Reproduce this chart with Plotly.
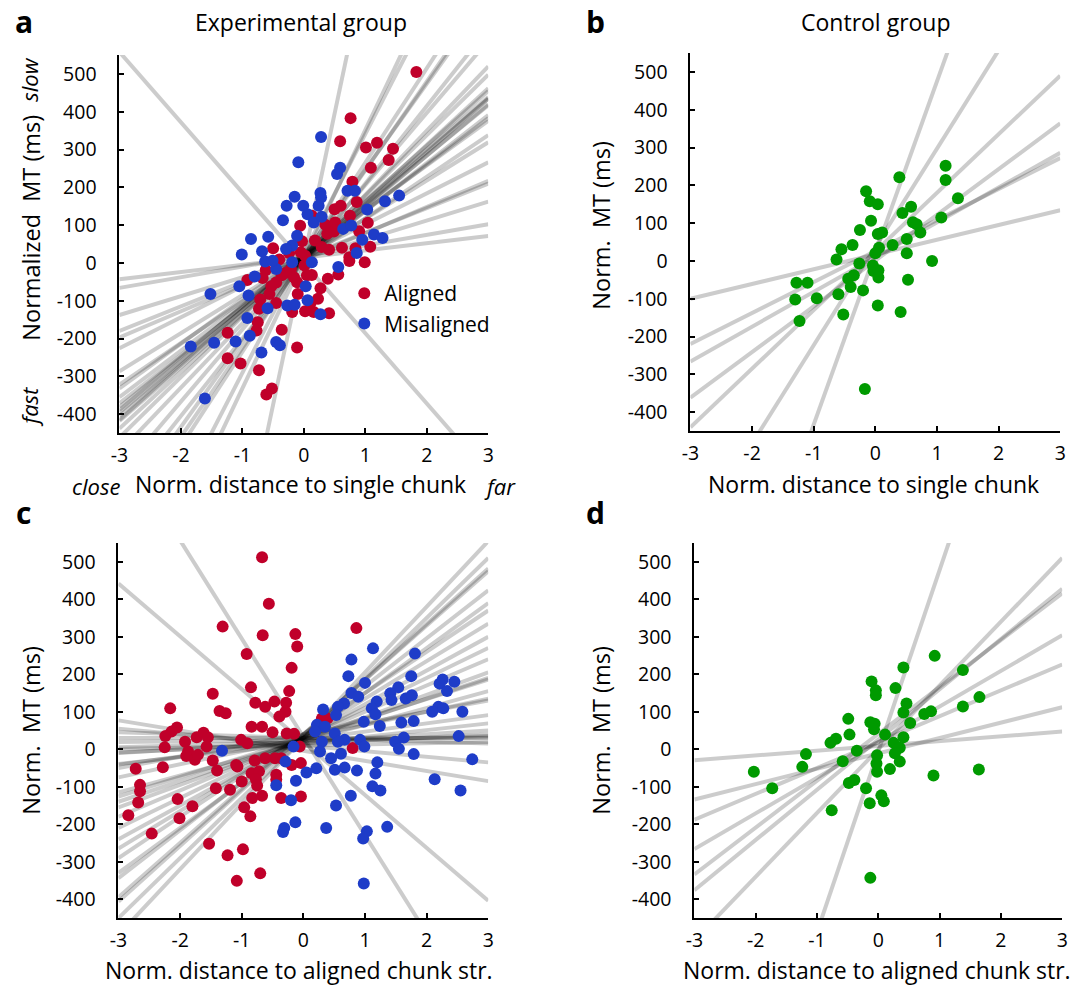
import plotly.graph_objects as go

# ---------------- DATA ----------------
# Panel a: experimental group, distance to single chunk
a_aligned_x = [1.83, 0.76, 0.59, 1.01, 1.19, 1.45, 1.38, 1.09, 0.79, 0.86, 0.75, 1.04, 0.90, 1.08, 0.84, 0.74, 0.74, 0.99,
               0.60, 0.50, 0.35, 0.13, -0.06, 0.38, 0.49, 0.51, 0.18, -0.03, 0.29, 0.41, 0.62, 0.56, 0.39, 0.27, 0.23,
               0.41, 0.16, 0.02, 0.11, 0.13, 0.05, 0.01, 0.02, -0.05, -0.24, -0.40, -0.50, -0.21, -0.29, -0.36, -0.11,
               -0.16, -0.10, -0.19, -0.45, -0.56, -0.62, -0.67, -0.71, -0.73, -0.75, -0.77, -0.36, -0.11, -0.52, -0.61,
               -0.73, -1.03, -1.24, -1.24, -0.92, -0.45, -0.53]
a_aligned_y = [505, 383, 322, 305, 318, 302, 272, 252, 215, 161, 125, 106, 84, 43, 39, 15, 5, 2,
               151, 142, 101, 125, 98, 77, 83, 107, 59, 57, 42, 35, 40, -31, -42, -67, -95,
               -133, -130, -128, -106, -32, -33, -7, 19, 28, 26, 9, 39, -16, -26, -33, -51,
               -38, -82, -130, -106, -82, -19, -40, -97, -121, -157, -179, -177, -224, -332, -348,
               -284, -266, -252, -185, -45, -52, -62]
a_mis_x = [0.28, -0.09, 0.59, 0.54, 0.27, 0.28, -0.15, -0.28, -0.01, -0.34, 0.24, 0.71, 0.83, 1.03, 1.32, 1.55, 1.14,
           1.28, 0.95, 0.86, 0.64, 0.77, 0.06, 0.16, 0.29, -0.11, -0.19, -0.29, -0.58, -0.86, -1.01, -0.68, -0.63,
           -0.45, -0.80, -1.05, -0.90, -1.52, -0.59, -0.92, -0.88, -1.11, -1.46, -1.84, -0.45, -0.39, -0.69, -1.61,
           -0.27, -0.15, 0.06, 0.27, 0.13, 0.03, 0.56, -0.19, -0.51]
a_mis_y = [333, 266, 252, 235, 185, 173, 175, 151, 151, 113, 151, 191, 191, 141, 163, 178, 75,
           66, 61, 26, 90, 99, 129, 107, 122, 72, 46, 37, 69, 63, 22, 31, 4,
           -16, -36, -62, -86, -82, -120, -146, -193, -208, -211, -221, -209, -218, -237, -359,
           -113, -111, -99, -136, 2, -62, -11, 2, 6]
a_line_slope = [-186, 19, 28, 50, 65, 69, 82, 101, 110, 118, 123, 127, 133, 136, 138, 140, 142, 145, 150, 160,
                170, 191, 205, 227, 235, 250, 316, 342, 770]
a_line_icpt = [0, 14, 18, 12, 15, 10, 20, 16, 8, 22, 14, 10, 18, 12, 25, 15, 8, 20, 12, 18,
               10, 15, 5, 20, 10, 15, 25, 10, 10]

# Panel b: control group, distance to single chunk
b_x = [1.14, 1.14, 0.39, 1.34, -0.15, -0.09, 0.04, 0.58, 0.44, 1.07, 0.61, 0.67, -0.07, -0.25, 0.73, 0.04, 0.11,
       0.51, -0.37, -0.55, 0.28, 0.06, 0.00, 0.51, 0.92, -0.63, -0.26, -0.04, -0.03, 0.05, 0.05, -0.35, -0.44,
       -0.40, 0.53, -1.28, -1.10, -1.30, -0.95, -0.60, -0.20, -1.23, -0.52, 0.04, 0.41, -0.17]
b_y = [252, 214, 221, 166, 184, 158, 150, 143, 127, 115, 102, 97, 106, 82, 75, 71, 75,
       58, 42, 31, 42, 35, 20, 20, 0, 4, -7, -12, -27, -25, -44, -38, -47,
       -69, -50, -58, -58, -102, -99, -88, -78, -159, -142, -118, -135, -339]
b_line_slope = [39, 82, 92, 121, 155, 260, 454]
b_line_icpt = [17, 26, 10, 1, 25, 37, 21]

# Panel c: experimental group, distance to aligned chunk structure
c_aligned_x = [-0.67, -0.56, -1.31, -0.66, -0.13, -0.10, -0.92, -0.19, 0.86, -0.85, -0.23, -1.47, -0.78, -0.47,
               -0.62, -0.28, -0.29, -0.39, -1.36, -1.26, -2.16, -0.67, -0.84, -0.50, -0.27, -0.15, 0.30, 0.39,
               -0.06, 0.80, -2.05, -2.14, -2.24, -2.25, -1.92, -1.73, -1.62, -1.55, -1.57, -1.87, -1.90, -1.76,
               -1.71, -1.47, -1.40, -1.09, -1.07, -1.01, -0.91, -0.79, -0.84, -0.72, -0.77, -0.75, -0.62, -0.46,
               -0.36, -0.44, -0.44, -0.19, -0.04, -2.28, -2.72, -2.65, -2.65, -2.68, -2.84, -2.46, -2.04, -1.80,
               -2.01, -1.42, -1.19, -1.00, -0.83, -0.67, -0.96, -0.86, -0.36, -0.04, -1.53, -1.23, -0.98, -1.08,
               -0.70]
c_aligned_y = [512, 388, 327, 304, 307, 274, 254, 217, 323, 165, 155, 148, 124, 127,
               113, 124, 100, 87, 102, 96, 109, 60, 60, 45, 42, 41, 82, 82,
               7, 3, 58, 47, 35, 5, 20, 32, 44, 32, 7, -6, -18, -28,
               -15, -30, -57, -42, -46, 25, 16, -30, -64, -59, -80, -97, -24, -24,
               -24, -68, -81, -42, -37, -48, -52, -95, -112, -142, -176, -225, -133, -152,
               -184, -104, -108, -86, -130, -124, -155, -179, -130, -126, -252, -283, -267, -351,
               -331]
c_mis_x = [1.13, 1.81, 0.78, 0.73, 1.00, 1.75, 2.26, 2.21, 2.45, 2.33, 1.54, 1.41, 1.43, 1.66, 1.76, 0.78, 0.89,
           1.19, 1.11, 1.17, 0.66, 0.56, 0.53, 0.32, 2.19, 2.27, 2.09, 2.58, 0.98, 1.59, 1.79, 1.24, 0.22, 0.35,
           0.19, 0.51, 0.67, 0.56, 0.30, 0.92, 0.99, 1.49, 1.63, 1.55, 1.79, 2.52, 2.74, 2.13, 2.55, 0.27, 0.61,
           0.45, 0.51, 0.67, 0.21, 0.05, 0.87, 1.20, 1.17, 1.12, 1.25, 0.77, 0.53, 0.37, 1.36, 1.03, 0.97, 0.98,
           -0.13, -0.31, -0.33, -0.20, -0.12, -0.44, -0.29, -1.32, -0.16]
c_mis_y = [269, 255, 239, 195, 177, 195, 186, 175, 180, 155, 165, 149, 131, 135, 144, 150, 140,
           127, 109, 93, 122, 113, 91, 106, 113, 109, 100, 100, 73, 71, 75, 62, 65, 60,
           47, 42, 25, 20, 20, 25, 7, 20, 31, 1, -13, 35, -27, -80, -110, -6, -12,
           -24, -55, -49, -51, -62, -57, -35, -65, -99, -110, -124, -150, -210, -207, -219, -238, -358,
           -195, -210, -221, -136, -84, -96, -33, -4, 7]
c_line_slope = [-262, -141, -27, -15, -5, 0, 2, 3, 5, 8, 10, 18, 22, 30, 35, 45, 52, 55, 60, 70,
                80, 90, 100, 110, 120, 128, 145, 148, 160, 175]
c_line_icpt = [33, 19, -4, 10, 30, 30, 25, 10, 20, 15, 20, 15, 25, 40, 30, 20, 30, 25, 25, 30,
               30, 30, 35, 40, 30, 40, 40, 38, 30, 30]

# Panel d: control group, distance to aligned chunk structure
d_x = [0.92, 0.41, 1.38, -0.11, -0.04, -0.04, 0.28, 1.65, 1.38, 0.46, 0.41, 0.75, 0.86, 0.52, -0.49, -0.13, -0.06,
       -0.07, -0.47, 0.11, -0.69, -0.78, 0.41, 0.25, 0.35, -0.35, 0.27, -0.02, -1.18, -0.58, 0.35, -0.03, -0.02,
       0.19, -1.24, -2.03, 1.64, 0.90, -1.73, -0.39, -0.48, -0.20, 0.05, 0.09, -0.14, -0.76, -0.13]
d_y = [249, 218, 211, 181, 157, 144, 163, 139, 114, 122, 98, 94, 101, 70, 81, 72, 68,
       53, 39, 39, 28, 17, 32, 17, 4, -4, -11, -16, -13, -32, -33, -38, -60,
       -53, -47, -60, -54, -70, -104, -82, -90, -104, -123, -139, -144, -163, -343]
d_line_slope = [12.7, 41, 69, 95, 125, 134, 170, 483]
d_line_icpt = [9, -11, 19, 19, 41, 26, 0, -5]

y_ticks = [-400, -300, -200, -100, 0, 100, 200, 300, 400, 500]
y_tick_text = ["-400", "-300", "-200", "-100", "0", "100", "200", "300", "400", "500"]
x_ticks = [-3, -2, -1, 0, 1, 2, 3]
x_tick_text = ["-3", "-2", "-1", "0", "1", "2", "3"]

RED = "#C0002A"
BLUE = "#1E3CC8"
GREEN = "#009A00"
LINE = "rgba(0,0,0,0.2)"
FONT = "Open Sans"

fig = go.Figure()

panels = {
    "a": dict(xa="x", ya="y", xd=[112/1084, 486/1084], yd=[1-433/987, 1-55/987]),
    "b": dict(xa="x2", ya="y2", xd=[691/1084, 1066/1084], yd=[1-431/987, 1-53/987]),
    "c": dict(xa="x3", ya="y3", xd=[111/1084, 486/1084], yd=[1-918/987, 1-543/987]),
    "d": dict(xa="x4", ya="y4", xd=[695/1084, 1068/1084], yd=[1-918/987, 1-543/987]),
}


def add_lines(key, slopes, icpts):
    p = panels[key]
    for s, b in zip(slopes, icpts):
        fig.add_trace(go.Scatter(x=[-3, 3], y=[b - 3 * s, b + 3 * s], mode="lines",
                                 line=dict(color=LINE, width=4), xaxis=p["xa"], yaxis=p["ya"],
                                 showlegend=False, hoverinfo="skip"))


def add_pts(key, xs, ys, color, name=None, legend=False):
    p = panels[key]
    fig.add_trace(go.Scatter(x=xs, y=ys, mode="markers", name=name,
                             marker=dict(color=color, size=12, line=dict(width=0)),
                             xaxis=p["xa"], yaxis=p["ya"], showlegend=legend, cliponaxis=True))


add_lines("a", a_line_slope, a_line_icpt)
add_lines("b", b_line_slope, b_line_icpt)
add_lines("c", c_line_slope, c_line_icpt)
add_lines("d", d_line_slope, d_line_icpt)

add_pts("a", a_aligned_x, a_aligned_y, RED, "Aligned", True)
add_pts("a", a_mis_x, a_mis_y, BLUE, "Misaligned", True)
add_pts("b", b_x, b_y, GREEN)
add_pts("c", c_aligned_x, c_aligned_y, RED)
add_pts("c", c_mis_x, c_mis_y, BLUE)
add_pts("d", d_x, d_y, GREEN)

axis_common = dict(showgrid=False, zeroline=False, showline=True, linecolor="black", linewidth=2,
                   ticks="inside", ticklen=5, tickwidth=1.5, tickcolor="black",
                   tickfont=dict(family=FONT, size=19.5, color="black"))

layout = dict(width=1084, height=987, margin=dict(l=0, r=0, t=0, b=0),
              paper_bgcolor="white", plot_bgcolor="white",
              font=dict(family=FONT, color="black"),
              legend=dict(x=340/1084, y=1-273/987, xanchor="left", yanchor="top",
                          font=dict(family=FONT, size=21, color="black"),
                          bgcolor="rgba(0,0,0,0)", itemwidth=30, tracegroupgap=0))

for i, key in enumerate(["a", "b", "c", "d"]):
    p = panels[key]
    sx = "" if i == 0 else str(i + 1)
    layout["xaxis" + sx] = dict(domain=p["xd"], range=[-3, 3], tickvals=x_ticks, ticktext=x_tick_text,
                                anchor="y" + sx, ticklabelstandoff=4, **axis_common)
    layout["yaxis" + sx] = dict(domain=p["yd"], range=[-450, 550], tickvals=y_ticks, ticktext=y_tick_text,
                                anchor="x" + sx, ticklabelstandoff=17, **axis_common)

fig.update_layout(**layout)

ann = []


def txt(x, y, s, size=20, bold=False, italic=False, angle=0):
    f = dict(family=FONT, size=size, color="black")
    if bold:
        f["weight"] = "bold"
    if italic:
        f["style"] = "italic"
    ann.append(dict(x=x / 1084, y=1 - y / 987, xref="paper", yref="paper", text=s, showarrow=False,
                    font=f, textangle=angle, xanchor="center", yanchor="middle"))


txt(15, 22, "a", 30, bold=True)
txt(595, 22, "b", 30, bold=True)
txt(15, 512, "c", 30, bold=True)
txt(595, 512, "d", 30, bold=True)
txt(296, 22, "Experimental group", 23)
txt(879, 22, "Control group", 23)
txt(22, 228, "Normalized  MT (ms)", 23.5, angle=-90)
txt(600, 225, "Norm.  MT (ms)", 23.5, angle=-90)
txt(22, 730, "Norm.  MT (ms)", 23.5, angle=-90)
txt(600, 730, "Norm.  MT (ms)", 23.5, angle=-90)
txt(20, 80, "slow", 22, italic=True, angle=-90)
txt(20, 407, "fast", 22, italic=True, angle=-90)
txt(296, 484, "Norm. distance to single chunk", 23)
txt(88, 486, "close", 22, italic=True)
txt(498, 486, "far", 22, italic=True)
txt(877, 484, "Norm. distance to single chunk", 23)
txt(294, 970, "Norm. distance to aligned chunk str.", 23)
txt(880, 970, "Norm. distance to aligned chunk str.", 23)

fig.update_layout(annotations=ann)
fig.write_html("out.html")
